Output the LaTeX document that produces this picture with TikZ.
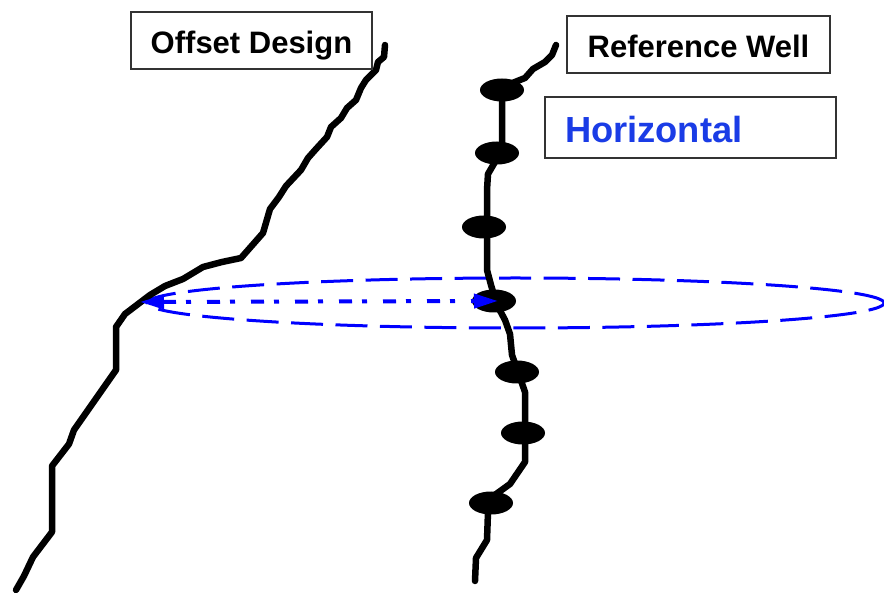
\documentclass[tikz,border=0pt]{standalone}
\usepackage{fontspec}
\setmainfont{Liberation Sans}
\usetikzlibrary{shapes.geometric,arrows.meta}
\definecolor{lbl}{HTML}{1A3CE6}
\tikzset{
  lab/.style={draw=black!80,line width=1.7pt,fill=white,inner sep=0pt,text height=26pt,text depth=0pt,font=\bfseries\fontsize{31}{33}\selectfont},
  well/.style={draw=black,line width=6.5pt,line cap=round,line join=round},
  blob/.style={ellipse,fill=black,inner sep=0pt,minimum width=44pt,minimum height=23pt},
  rangeline/.style={draw=blue,line width=3pt}
}
\begin{document}
\begin{tikzpicture}[x=1pt,y=-1pt]
\useasboundingbox (0,0) rectangle (884,593);
% range ellipse
\node[ellipse,rangeline,dash pattern=on 32pt off 12.5pt,inner sep=0pt,minimum width=737pt,minimum height=50pt] (range) at (515.5,303) {};
% offset well
\draw[well] (385,45) -- (384,57) -- (378,62) -- (376,70) -- (366,80) -- (361,88) -- (356,100) -- (347,108) -- (341,118) -- (331,127) -- (327,137) -- (316,149) -- (308,158) -- (301,170) -- (286,186) -- (279,197) -- (270,209) -- (263,233) -- (241,258) -- (222,262) -- (203,267) -- (183,279) -- (165,286) -- (150,295) -- (125,314) -- (116,327) -- (116,370) -- (95,400) -- (74,430) -- (69,444) -- (52,466) -- (52,532) -- (33,557) -- (24,576) -- (16,590);
% reference well
\draw[well] (556,45) -- (552,55) -- (545,62) -- (533,69) -- (525,78) -- (505,86) -- (502,92) -- (502,150) -- (488,174) -- (487,190) -- (487,270) -- (491,285) -- (497,305) -- (505,320) -- (510,334) -- (512,355) -- (518,372) -- (525,392) -- (525,462) -- (510,484) -- (492,497) -- (488,512) -- (487,540) -- (476,558) -- (475,581);
\node[blob] (b1) at (502,90) {};
\node[blob] (b2) at (497,153) {};
\node[blob] (b3) at (484,227) {};
\node[blob] (b4) at (494,301) {};
\node[blob] (b5) at (517,372) {};
\node[blob] (b6) at (523,433) {};
\node[blob] (b7) at (491,503) {};
% radius
\coordinate (tip) at (140,302);
\draw[draw=blue,line width=4pt,dash pattern=on 13pt off 10pt on 5pt off 16pt,{Triangle[length=24pt,width=14pt]}-{Triangle[length=24pt,width=14pt]},shorten >=-4pt] (tip) -- (b4.center);
% labels
\node[lab] (offset) at (251.5,40.5) [minimum width=241pt,minimum height=57pt] {Offset Design};
\node[lab] (refw) at (698.5,44.5) [minimum width=263pt,minimum height=57pt] {Reference Well};
\node[lab,text=lbl,minimum width=291pt,minimum height=61pt,text width=251pt,align=left,text height=30pt,font=\bfseries\fontsize{36.3}{38}\selectfont] (horiz) at (690.5,127.5) {Horizontal};
\end{tikzpicture}
\end{document}
